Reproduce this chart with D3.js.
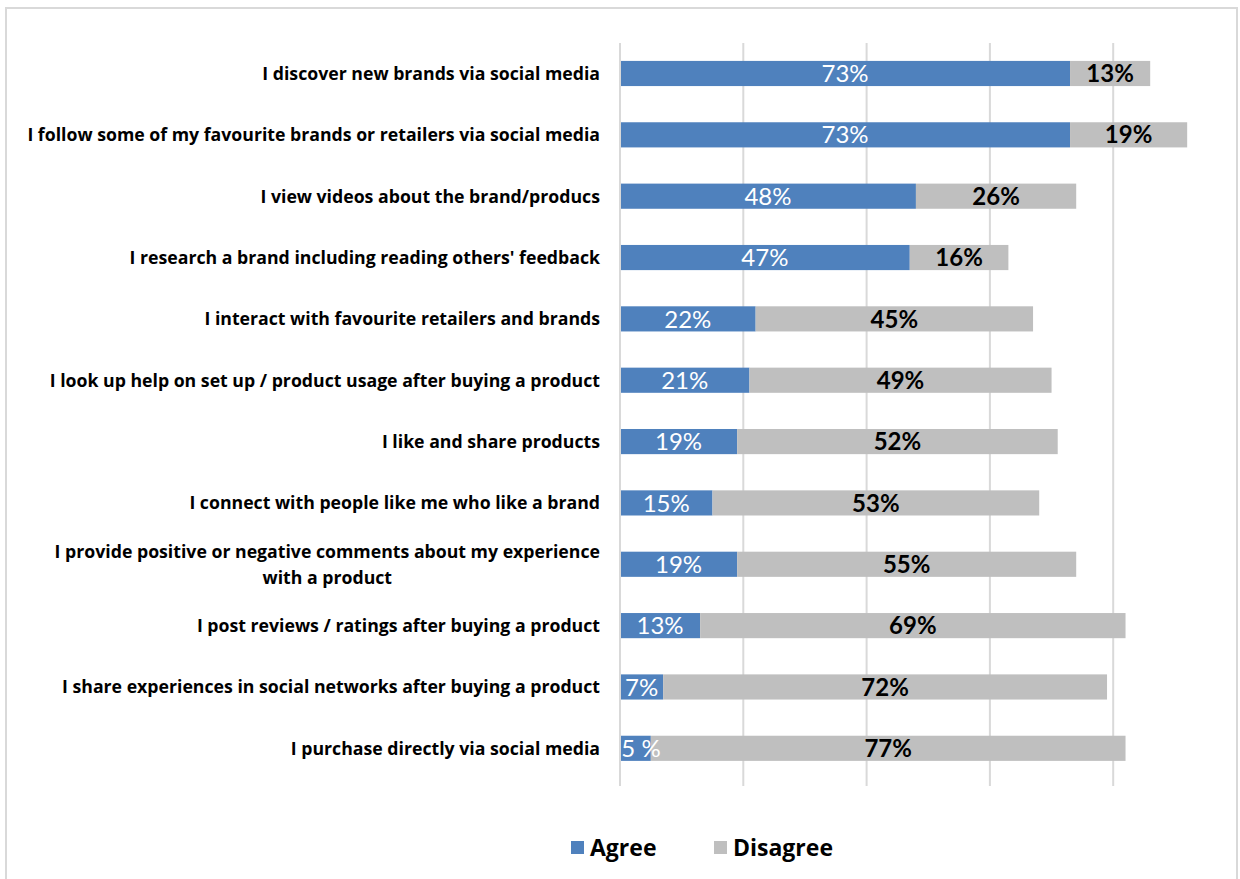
<!DOCTYPE html>
<html>
<head>
<meta charset="utf-8">
<script src="https://cdn.jsdelivr.net/npm/d3@7"></script>
<style>
  html, body { margin: 0; padding: 0; background: #fff; }
  svg { display: block; }
  .cat, .legend-text { font-family: "Open Sans", Lato, sans-serif; }
  .val { font-family: Lato, "Open Sans", sans-serif; }
</style>
</head>
<body>
<svg id="chart" width="1240" height="879"></svg>
<script>
// Survey statements, top to bottom
const categories = [
  "I discover new brands via social media",
  "I follow some of my favourite brands or retailers via social media",
  "I view videos about the brand/producs",
  "I research a brand including reading others' feedback",
  "I interact with favourite retailers and brands",
  "I look up help on set up / product usage after buying a product",
  "I like and share products",
  "I connect with people like me who like a brand",
  "I provide positive or negative comments about my experience|with a product",
  "I post reviews / ratings after buying a product",
  "I share experiences in social networks after buying a product",
  "I purchase directly via social media"
];
const agree    = [73, 73, 48, 47, 22, 21, 19, 15, 19, 13, 7, 5];
const disagree = [13, 19, 26, 16, 45, 49, 52, 53, 55, 69, 72, 77];
const agreeLabels = ["73%", "73%", "48%", "47%", "22%", "21%", "19%", "15%", "19%", "13%", "7%", "5 %"];
const seriesNames = ["Agree", "Disagree"];
const gridTicks = [0, 20, 40, 60, 80];

const colors = { Agree: "#4f81bd", Disagree: "#bfbfbf" };

const svg = d3.select("#chart");

// outer frame
svg.append("rect")
  .attr("x", 6).attr("y", 8).attr("width", 1231).attr("height", 885)
  .attr("fill", "#fff").attr("stroke", "#d9d9d9").attr("stroke-width", 2);

const x = d3.scaleLinear().domain([0, 100]).range([620, 1236.5]);
const y = d3.scaleBand().domain(d3.range(categories.length)).range([43, 778.8]).paddingInner(0.59).paddingOuter(0.292);

// vertical gridlines
svg.append("g").selectAll("line").data(gridTicks).join("line")
  .attr("x1", d => x(d)).attr("x2", d => x(d))
  .attr("y1", 43).attr("y2", 786)
  .attr("stroke", "#d9d9d9").attr("stroke-width", 2);

const rows = categories.map((c, i) => ({ i, agree: agree[i], disagree: disagree[i], label: agreeLabels[i] }));

// agree segments
svg.append("g").selectAll("rect").data(rows).join("rect")
  .attr("x", d => x(0) + 1)
  .attr("y", d => y(d.i))
  .attr("width", d => x(d.agree) - x(0) - 1)
  .attr("height", y.bandwidth())
  .attr("fill", colors.Agree);

// disagree segments
svg.append("g").selectAll("rect").data(rows).join("rect")
  .attr("x", d => x(d.agree))
  .attr("y", d => y(d.i))
  .attr("width", d => x(d.agree + d.disagree) - x(d.agree))
  .attr("height", y.bandwidth())
  .attr("fill", colors.Disagree);

// agree value labels
svg.append("g").selectAll("text").data(rows).join("text")
  .attr("class", "val")
  .attr("x", d => Math.max((x(0) + x(d.agree)) / 2, x(0) + 21))
  .attr("y", d => y(d.i) + y.bandwidth() / 2)
  .attr("dy", "0.36em")
  .attr("text-anchor", "middle")
  .attr("fill", "#fff")
  .attr("font-size", 24)
  .text(d => d.label);

// disagree value labels
svg.append("g").selectAll("text").data(rows).join("text")
  .attr("class", "val")
  .attr("x", d => (x(d.agree) + x(d.agree + d.disagree)) / 2)
  .attr("y", d => y(d.i) + y.bandwidth() / 2)
  .attr("dy", "0.36em")
  .attr("text-anchor", "middle")
  .attr("fill", "#000")
  .attr("font-weight", "bold")
  .attr("font-size", 24)
  .text(d => d.disagree + "%");

// category labels
const catG = svg.append("g");
categories.forEach((c, i) => {
  const lines = c.split("|");
  const cy = y(i) + y.bandwidth() / 2;
  const lh = 26;
  const t = catG.append("text")
    .attr("class", "cat")
    .attr("text-anchor", "middle")
    .attr("font-weight", "bold")
    .attr("font-size", 17.7)
    .attr("fill", "#000");
  lines.forEach((ln, k) => {
    t.append("tspan")
      .attr("x", 600)
      .attr("y", cy + (k - (lines.length - 1) / 2) * lh)
      .attr("dy", "0.36em")
      .text(ln);
  });
  if (lines.length === 1) {
    t.attr("text-anchor", "end");
  } else {
    // centre the wrapped block under its widest line, right edge at 600
    const w = d3.max(t.selectAll("tspan").nodes(), n => n.getComputedTextLength());
    t.selectAll("tspan").attr("x", 600 - w / 2);
  }
});

// legend
const legend = svg.append("g");
const legendItems = [
  { name: seriesNames[0], sx: 571, tx: 590 },
  { name: seriesNames[1], sx: 714, tx: 733 }
];
legendItems.forEach(it => {
  legend.append("rect").attr("x", it.sx).attr("y", 841).attr("width", 13).attr("height", 13)
    .attr("fill", colors[it.name]);
  legend.append("text").attr("class", "legend-text").attr("x", it.tx).attr("y", 848).attr("dy", "0.36em")
    .attr("font-weight", "bold").attr("font-size", 23).attr("fill", "#000")
    .text(it.name);
});
</script>
</body>
</html>
